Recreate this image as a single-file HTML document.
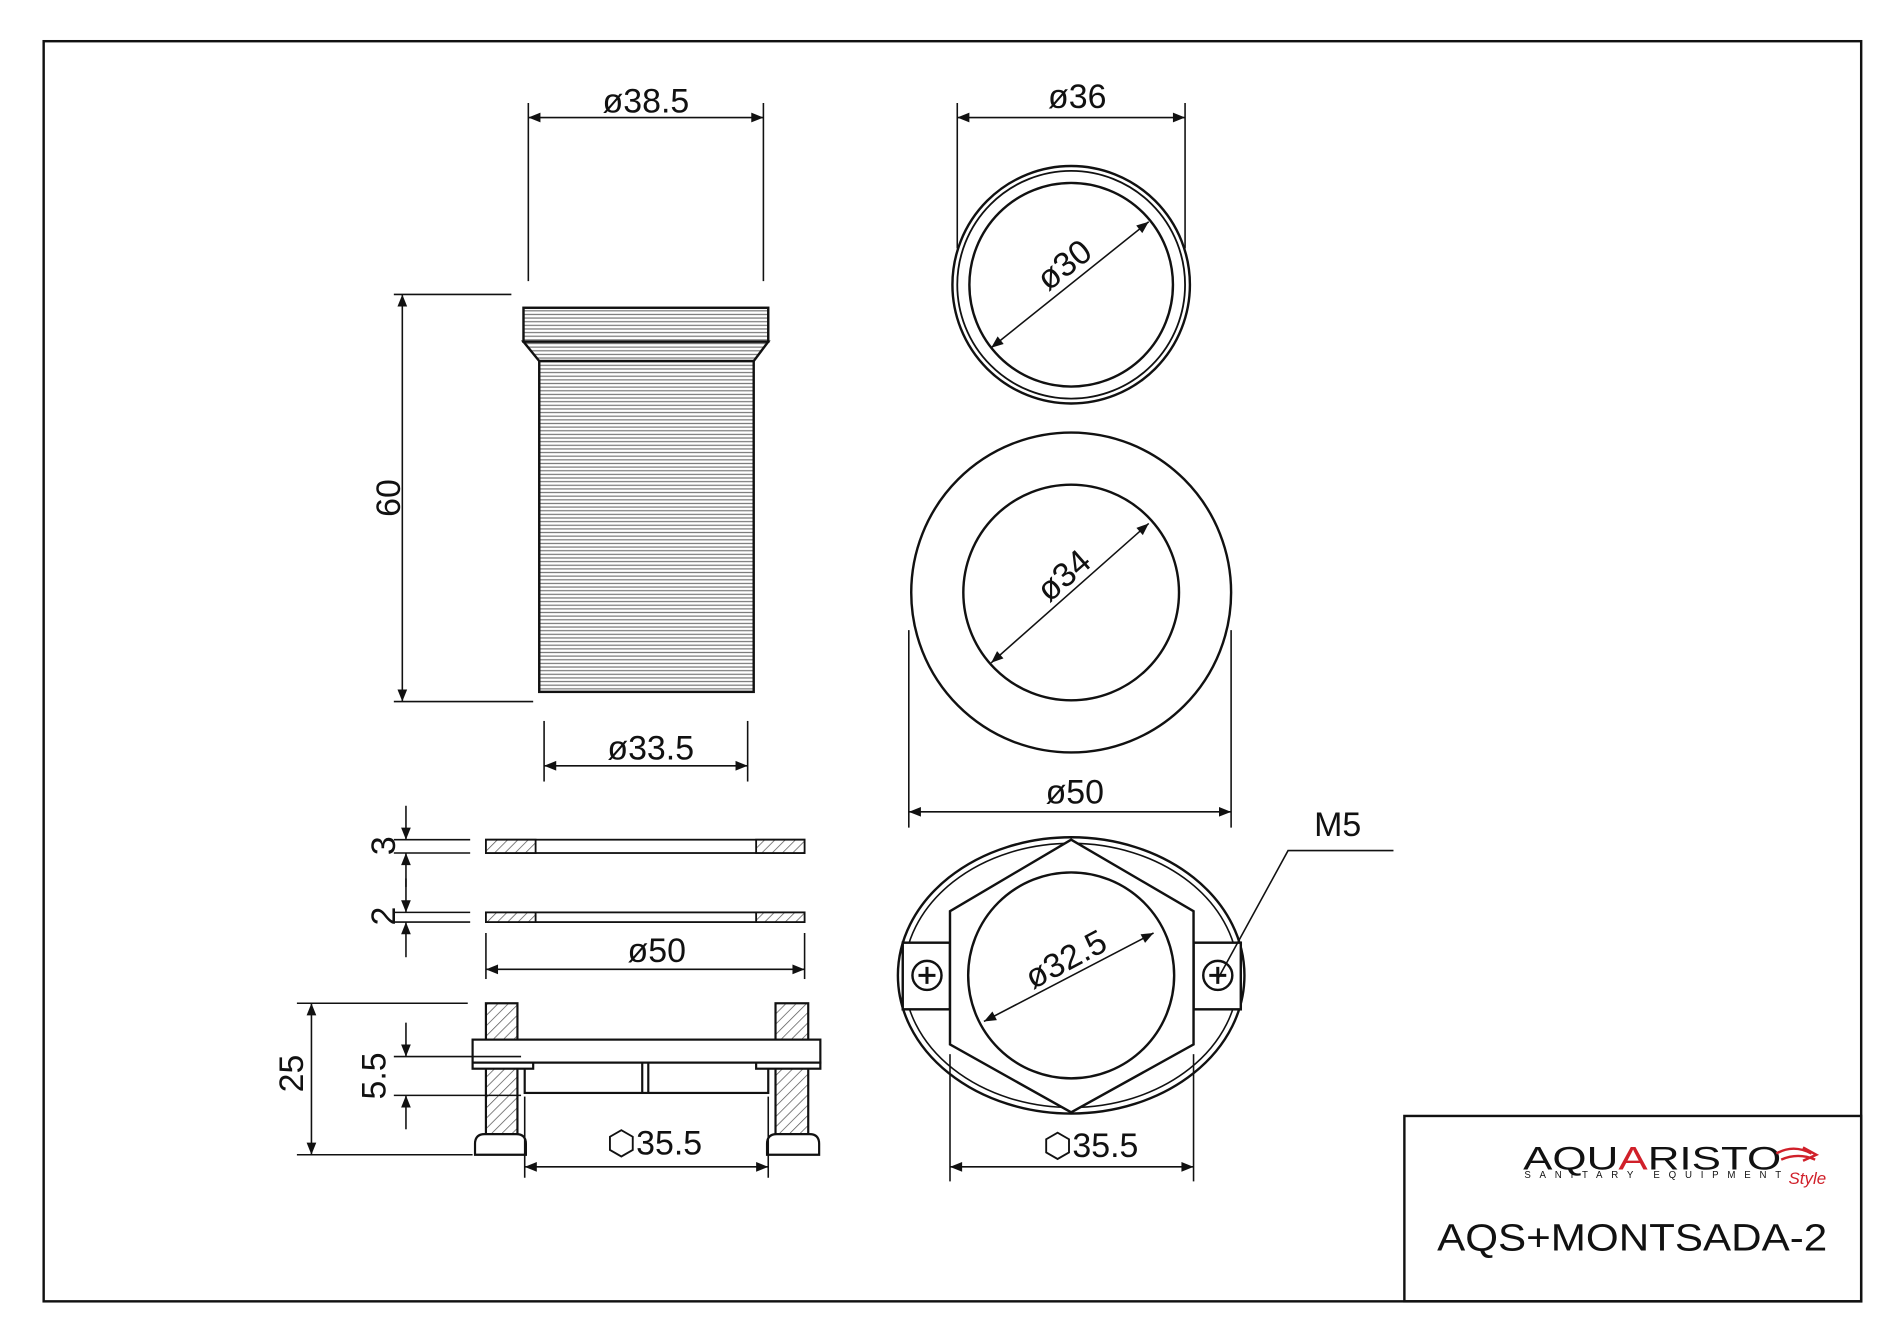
<!DOCTYPE html>
<html><head><meta charset="utf-8"><style>
html,body{margin:0;padding:0;background:#fff;}
svg{display:block;}
text{font-family:"Liberation Sans",Arial,sans-serif;fill:#111;}
</style></head><body>
<svg width="1900" height="1328" viewBox="0 0 1568 1096" xmlns="http://www.w3.org/2000/svg">
<defs>
<marker id="a" viewBox="0 0 10 10" refX="10" refY="5" markerWidth="14" markerHeight="10" markerUnits="userSpaceOnUse" orient="auto-start-reverse"><path d="M0,1 L10,5 L0,9 z" fill="#111"/></marker>
<pattern id="hl" width="4" height="3" patternUnits="userSpaceOnUse"><rect width="4" height="3" fill="#fff"/><line x1="0" y1="1.5" x2="4" y2="1.5" stroke="#777" stroke-width="1"/></pattern>
<pattern id="hd" width="6" height="6" patternUnits="userSpaceOnUse" patternTransform="rotate(45)"><rect width="6" height="6" fill="#fff"/><line x1="0" y1="0" x2="0" y2="6" stroke="#555" stroke-width="1.2"/></pattern>
</defs>
<rect width="1568" height="1096" fill="#fff"/>
<g fill="none" stroke="#111" stroke-width="2">
<rect x="36" y="34" width="1500" height="1040"/>
<rect x="1159" y="921" width="377" height="153"/>
</g>
<!-- pipe -->
<g stroke="#111" stroke-width="2">
<rect x="432" y="254" width="202" height="28" fill="url(#hl)"/>
<path d="M432,282 L445,298 L622,298 L634,282 Z" fill="url(#hl)"/>
<rect x="445" y="298" width="177" height="273" fill="url(#hl)"/>
</g>
<g stroke="#111" stroke-width="1.3" fill="none">
<line x1="325" y1="243" x2="422" y2="243"/><line x1="325" y1="579" x2="440" y2="579"/>
<line x1="332" y1="243" x2="332" y2="579" marker-start="url(#a)" marker-end="url(#a)"/>
<line x1="436" y1="85" x2="436" y2="232"/><line x1="630" y1="85" x2="630" y2="232"/>
<line x1="436" y1="97" x2="630" y2="97" marker-start="url(#a)" marker-end="url(#a)"/>
<line x1="449" y1="595" x2="449" y2="645"/><line x1="617" y1="595" x2="617" y2="645"/>
<line x1="449" y1="632" x2="617" y2="632" marker-start="url(#a)" marker-end="url(#a)"/>
</g>
<text x="533" y="93" font-size="28" text-anchor="middle">ø38.5</text>
<text x="537" y="627" font-size="28" text-anchor="middle">ø33.5</text>
<text font-size="28" text-anchor="middle" transform="translate(330,411) rotate(-90)">60</text>
<!-- top circle -->
<g stroke="#111" fill="none">
<circle cx="884" cy="235" r="98" stroke-width="2"/>
<circle cx="884" cy="235" r="94" stroke-width="1.5"/>
<circle cx="884" cy="235" r="84" stroke-width="2"/>
<g stroke-width="1.3">
<line x1="790" y1="85" x2="790" y2="205"/><line x1="978" y1="85" x2="978" y2="205"/>
<line x1="790" y1="97" x2="978" y2="97" marker-start="url(#a)" marker-end="url(#a)"/>
<line x1="818" y1="287" x2="948" y2="183" marker-start="url(#a)" marker-end="url(#a)"/>
</g>
<circle cx="884" cy="489" r="132" stroke-width="2"/>
<circle cx="884" cy="489" r="89" stroke-width="2"/>
<g stroke-width="1.3">
<line x1="750" y1="520" x2="750" y2="683"/><line x1="1016" y1="520" x2="1016" y2="683"/>
<line x1="750" y1="670" x2="1016" y2="670" marker-start="url(#a)" marker-end="url(#a)"/>
<line x1="818" y1="547" x2="948" y2="432" marker-start="url(#a)" marker-end="url(#a)"/>
</g>
</g>
<text x="889" y="89" font-size="28" text-anchor="middle">ø36</text>
<text font-size="28" text-anchor="middle" transform="translate(884,226) rotate(-38)">ø30</text>
<text x="887" y="663" font-size="28" text-anchor="middle">ø50</text>
<text font-size="28" text-anchor="middle" transform="translate(884,482) rotate(-41)">ø34</text>
<!-- bottom flange -->
<g stroke="#111" fill="none" stroke-width="2">
<ellipse cx="884" cy="805" rx="143" ry="114"/>
<ellipse cx="884" cy="805" rx="138" ry="109" stroke-width="1.3"/>
<rect x="745" y="778" width="39" height="55" fill="#fff"/>
<rect x="985" y="778" width="39" height="55" fill="#fff"/>
<path d="M884,693 L985,752 L985,862 L884,918 L784,862 L784,752 Z" fill="#fff"/>
<circle cx="884" cy="805" r="85"/>
<circle cx="765" cy="805" r="12"/><circle cx="1005" cy="805" r="12"/>
<path d="M758,805 H772 M765,798 V812 M998,805 H1012 M1005,798 V812" stroke-width="2.5"/>
<g stroke-width="1.3">
<line x1="812" y1="843" x2="952" y2="770" marker-start="url(#a)" marker-end="url(#a)"/>
<polyline points="1150,702 1063,702 1005,808"/>
<line x1="784" y1="870" x2="784" y2="975"/><line x1="985" y1="870" x2="985" y2="975"/>
<line x1="784" y1="963" x2="985" y2="963" marker-start="url(#a)" marker-end="url(#a)"/>
</g>
</g>
<text font-size="28" text-anchor="middle" transform="translate(884,800) rotate(-28)">ø32.5</text>
<text x="1104" y="690" font-size="28" text-anchor="middle">M5</text>
<text x="900" y="955" font-size="28" text-anchor="middle">⬡35.5</text>
<!-- washers -->
<g stroke="#111" stroke-width="1.5">
<rect x="401" y="693" width="263" height="11" fill="#fff"/>
<rect x="401" y="693" width="41" height="11" fill="url(#hd)"/>
<rect x="624" y="693" width="40" height="11" fill="url(#hd)"/>
<rect x="401" y="753" width="263" height="8" fill="#fff"/>
<rect x="401" y="753" width="41" height="8" fill="url(#hd)"/>
<rect x="624" y="753" width="40" height="8" fill="url(#hd)"/>
</g>
<g stroke="#111" stroke-width="1.3" fill="none">
<line x1="325" y1="693" x2="388" y2="693"/><line x1="325" y1="704" x2="388" y2="704"/>
<line x1="335" y1="665" x2="335" y2="693" marker-end="url(#a)"/><line x1="335" y1="732" x2="335" y2="704" marker-end="url(#a)"/>
<line x1="325" y1="753" x2="388" y2="753"/><line x1="325" y1="761" x2="388" y2="761"/>
<line x1="335" y1="725" x2="335" y2="753" marker-end="url(#a)"/><line x1="335" y1="790" x2="335" y2="761" marker-end="url(#a)"/>
<line x1="401" y1="770" x2="401" y2="808"/><line x1="664" y1="770" x2="664" y2="808"/>
<line x1="401" y1="800" x2="664" y2="800" marker-start="url(#a)" marker-end="url(#a)"/>
</g>
<text font-size="28" text-anchor="middle" transform="translate(326,698) rotate(-90)">3</text>
<text font-size="28" text-anchor="middle" transform="translate(326,756) rotate(-90)">2</text>
<text x="542" y="794" font-size="28" text-anchor="middle">ø50</text>
<!-- assembly -->
<g stroke="#111" stroke-width="1.8">
<rect x="401" y="828" width="26" height="108" fill="url(#hd)"/>
<rect x="640" y="828" width="27" height="108" fill="url(#hd)"/>
<path d="M392,953 V944 Q392,936 400,936 H426 Q434,936 434,944 V953 Z" fill="#fff"/>
<path d="M633,953 V944 Q633,936 641,936 H668 Q676,936 676,944 V953 Z" fill="#fff"/>
<rect x="390" y="858" width="287" height="19" fill="#fff"/>
<rect x="433" y="877" width="201" height="25" fill="#fff"/>
<line x1="530" y1="877" x2="530" y2="902"/><line x1="535" y1="877" x2="535" y2="902"/>
<rect x="390" y="877" width="50" height="5" fill="#fff"/>
<rect x="624" y="877" width="53" height="5" fill="#fff"/>
</g>
<g stroke="#111" stroke-width="1.3" fill="none">
<line x1="245" y1="828" x2="386" y2="828"/><line x1="245" y1="953" x2="390" y2="953"/>
<line x1="257" y1="828" x2="257" y2="953" marker-start="url(#a)" marker-end="url(#a)"/>
<line x1="325" y1="872" x2="430" y2="872"/><line x1="325" y1="904" x2="430" y2="904"/>
<line x1="335" y1="844" x2="335" y2="872" marker-end="url(#a)"/><line x1="335" y1="932" x2="335" y2="904" marker-end="url(#a)"/>
<line x1="433" y1="905" x2="433" y2="972"/><line x1="634" y1="905" x2="634" y2="972"/>
<line x1="433" y1="963" x2="634" y2="963" marker-start="url(#a)" marker-end="url(#a)"/>
</g>
<text font-size="28" text-anchor="middle" transform="translate(250,886) rotate(-90)">25</text>
<text font-size="28" text-anchor="middle" transform="translate(318,888) rotate(-90)">5.5</text>
<text x="540" y="953" font-size="28" text-anchor="middle">⬡35.5</text>
<!-- title block -->
<text x="1257" y="965" font-size="27" textLength="213" lengthAdjust="spacingAndGlyphs">AQU<tspan style="fill:#d0202a">A</tspan>RISTO</text>
<text x="1258" y="972" font-size="8" textLength="212" lengthAdjust="spacing">SANITARY EQUIPMENT</text>
<path d="M1466,952 Q1480,944 1495,952 M1470,957 Q1484,951 1498,957 M1488,947 L1499,953 L1488,958" stroke="#d0202a" stroke-width="2" fill="none"/>
<text x="1476" y="977" font-size="14" font-style="italic" style="fill:#d0202a">Style</text>
<text x="1186" y="1032" font-size="31" textLength="322" lengthAdjust="spacingAndGlyphs">AQS+MONTSADA-2</text>
</svg>
</body></html>
